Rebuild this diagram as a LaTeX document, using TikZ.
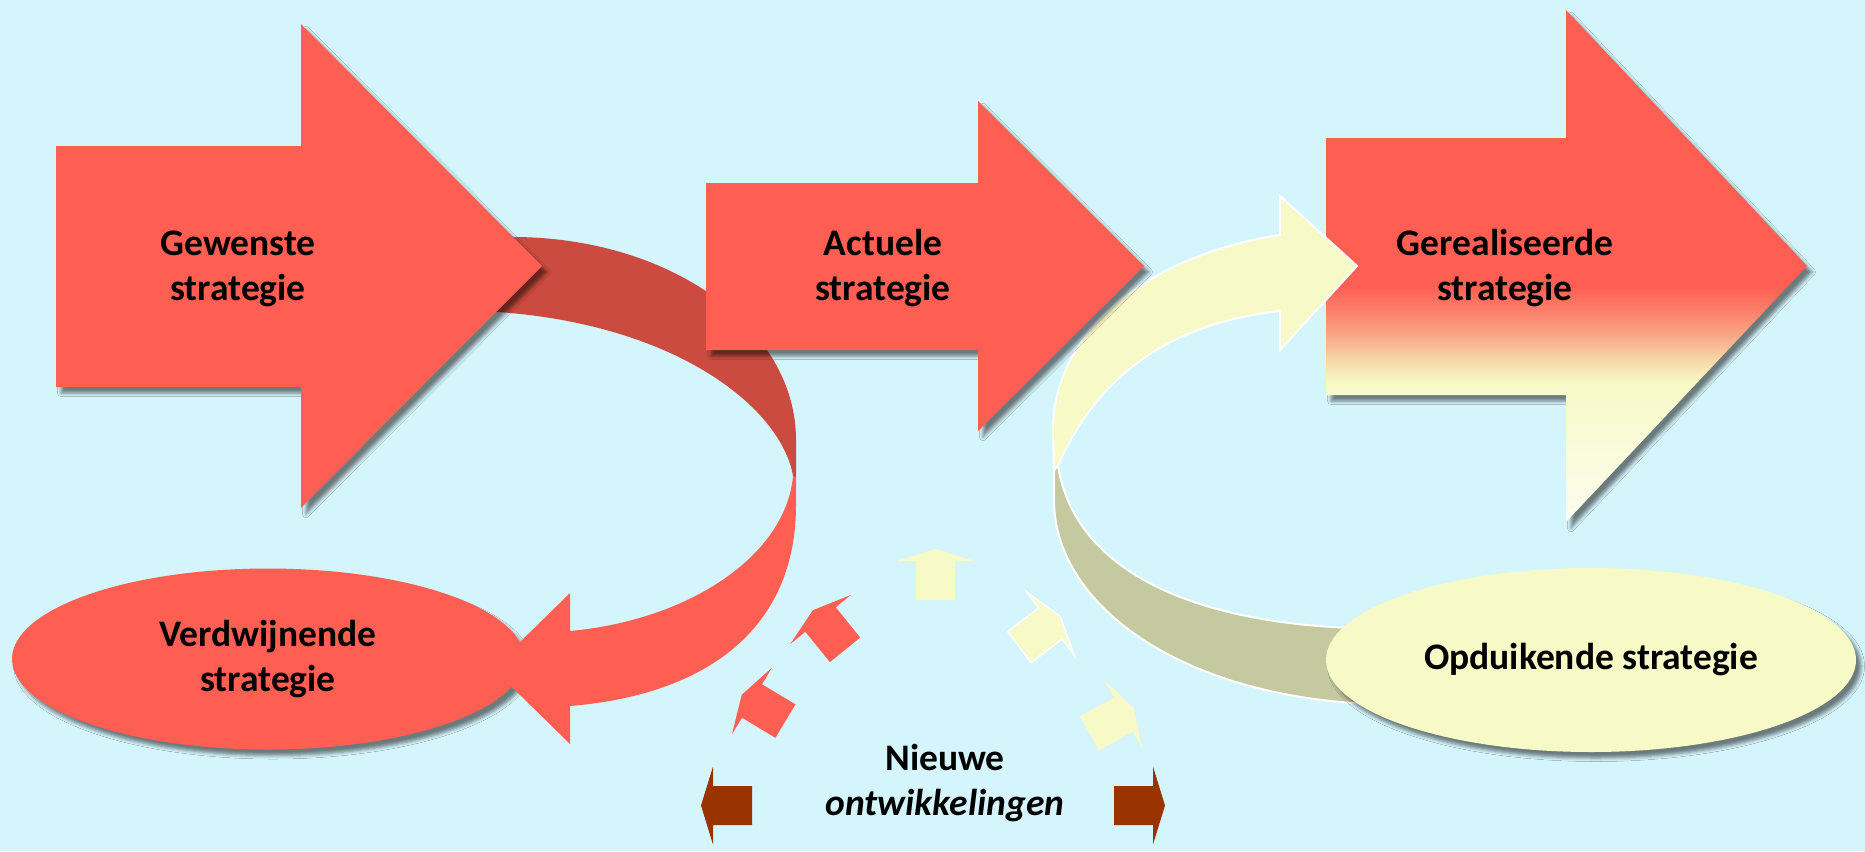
\documentclass[tikz,border=0pt]{standalone}
\usepackage{fontspec}
\setmainfont{Carlito}
\usetikzlibrary{shapes.geometric,shadows.blur}

\definecolor{bgcyan}{RGB}{213,245,252}
\definecolor{coral}{RGB}{255,95,82}
\definecolor{darkcoral}{RGB}{203,75,64}
\definecolor{paleyellow}{RGB}{247,250,198}
\definecolor{bandolive}{RGB}{197,201,160}
\definecolor{brownish}{RGB}{153,51,0}
\definecolor{fadewhite}{RGB}{252,253,240}
\definecolor{pinkyellow}{RGB}{247,222,172}
\definecolor{salmonlight}{RGB}{249,172,138}
\definecolor{salmon}{RGB}{252,130,108}

\pgfdeclareverticalshading{gerealshade}{100bp}{color(0bp)=(fadewhite); color(25bp)=(fadewhite); color(38.5bp)=(paleyellow); color(40.5bp)=(pinkyellow); color(43bp)=(salmonlight); color(45.5bp)=(salmon); color(48bp)=(coral); color(100bp)=(coral)}

\begin{document}
\begin{tikzpicture}[x=1pt, y=-1pt,
	strat/.style={align=center, font=\bfseries\fontsize{37.5}{45}\selectfont},
	bigshadow/.style={blur shadow={shadow xshift=5pt, shadow yshift=-6pt, shadow blur radius=3.5pt, shadow opacity=50}}]
	
	\useasboundingbox (0,0) rectangle (1865,851);
	\fill[bgcyan] (0,0) rectangle (1865,851);
	
	% verdwijnende strategie
	\node[ellipse, fill=coral, minimum width=512pt, minimum height=181pt, inner sep=0pt, strat, bigshadow] (verdwijn) at (268,659) {Verdwijnende\\strategie};
	
	% rode lus
	\fill[darkcoral] (460,237) -- (517,237) .. controls (675,239) and (796,330) .. (796,440) -- (796,478) -- (793,476) .. controls (782,410) and (680,325) .. (498,312) -- (460,312) -- cycle;
	\fill[coral] (793,476) .. controls (786,555) and (690,620) .. (570,631) -- (570,593) -- (493,668.5) -- (570,744) -- (570,706) .. controls (705,695) and (796,630) .. (796,505) -- (796,478) -- cycle;
	
	% gewenste strategie
	\fill[coral, bigshadow] (56,146) -- (301,146) -- (301,24) -- (542,266) -- (301,508) -- (301,387) -- (56,387) -- cycle;
	
	% gerealiseerde strategie
	\shade[shading=gerealshade, bigshadow] (1326,138) -- (1566,138) -- (1566,10) -- (1807,266) -- (1566,522) -- (1566,395) -- (1326,395) -- cycle;
	
	% gele lus
	\filldraw[fill=bandolive, draw=white, line width=2] (1058,466) .. controls (1075,570) and (1190,622) .. (1353,628) -- (1365,628) -- (1370,703) -- (1353,703) .. controls (1170,690) and (1054,600) .. (1054,500) -- (1054,470) -- cycle;
	\filldraw[fill=paleyellow, draw=white, line width=2] (1058,466) .. controls (1100,368) and (1180,322) .. (1280,311) -- (1280,350) -- (1357,266) -- (1280,196) -- (1280,235) .. controls (1150,255) and (1053,330) .. (1053,430) -- (1054,470) -- cycle;
	
	% opduikende strategie
	\node[ellipse, fill=paleyellow, minimum width=530pt, minimum height=184pt, inner sep=0pt, strat, bigshadow] (opduik) at (1591,660) {Opduikende strategie};
	
	% actuele strategie
	\fill[coral, bigshadow] (706,183) -- (978,183) -- (978,101) -- (1144,266) -- (978,431) -- (978,350) -- (706,350) -- cycle;
	
	% kleine pijlen
	\foreach \px/\py/\rot/\col/\edge in {713/805.5/90/brownish/none, 752/701/59/coral/none, 820.5/619.5/39/coral/none, 935.5/561/0/paleyellow/none, 1050.5/623.5/-53/paleyellow/white, 1123.5/714.5/-61/paleyellow/none, 1153/805.5/-90/brownish/none}
		\filldraw[fill=\col, draw=\edge, line width=1.5, shift={(\px,\py)}, rotate=\rot] (-19.5,39) -- (-19.5,0) -- (-39,0) -- (0,-12) -- (39,0) -- (19.5,0) -- (19.5,39) -- cycle;
	
	\node[strat] (gewenst) at (238,269) {Gewenste\\strategie};
	\node[strat] (actueel) at (883,268) {Actuele\\strategie};
	\node[strat] (gerealiseerd) at (1505,268.5) {Gerealiseerde\\strategie};
	\node[strat] (nieuw) at (945,782.5) {Nieuwe\\\textit{ontwikkelingen}};
	
\end{tikzpicture}
\end{document}
